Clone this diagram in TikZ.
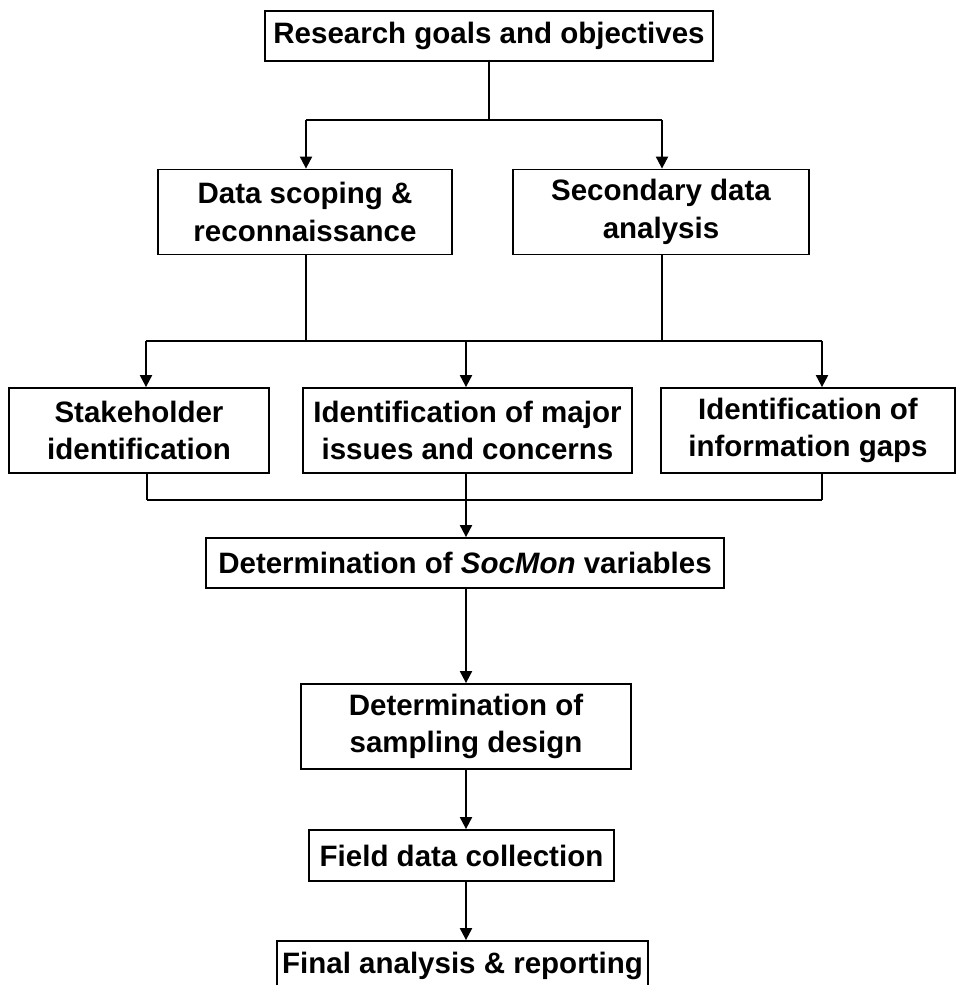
\documentclass[tikz,border=0pt]{standalone}
\usepackage{fontspec}
\setmainfont{Liberation Sans}
\usetikzlibrary{arrows.meta}
\begin{document}
\begin{tikzpicture}[x=1pt,y=-1pt,
  box/.style={draw=black, line width=1.8pt, rectangle, inner sep=0pt, align=center,
    font=\fontsize{29.5}{37.5}\selectfont\bfseries},
  conn/.style={line width=2pt},
  arr/.style={line width=2pt, -{Triangle[length=12pt,width=12pt]}}]
\useasboundingbox (0,0) rectangle (957,985);
\fill[white] (0,0) rectangle (957,985);
% nodes
\node[box, minimum width=448pt, minimum height=50pt] (goals) at (489,36) {Research goals and objectives};
\node[box, minimum width=294pt, minimum height=85pt] (scope) at (305,212) {Data scoping \&\\reconnaissance};
\node[box, minimum width=296pt, minimum height=85pt] (second) at (661,212) {Secondary data\\analysis};
\node[box, minimum width=260pt, minimum height=85pt] (stake) at (139,430.5) {Stakeholder\\identification};
\node[box, minimum width=329pt, minimum height=85pt] (issues) at (467.5,430.5) {Identification of major\\issues and concerns};
\node[box, minimum width=294pt, minimum height=85pt] (gaps) at (808,430.5) {Identification of\\information gaps};
\node[box, minimum width=518pt, minimum height=50pt] (socmon) at (465,563) {Determination of \textit{SocMon} variables};
\node[box, minimum width=330pt, minimum height=85pt] (sampling) at (466,726.5) {Determination of\\sampling design};
\node[box, minimum width=305pt, minimum height=51pt] (field) at (461.5,855.5) {Field data collection};
\node[box, minimum width=371pt, minimum height=50pt] (final) at (462.5,966) {Final analysis \& reporting};
% junction coordinates
\coordinate (j1) at (489,120);
\coordinate (j1l) at (306,120);
\coordinate (j1r) at (662,120);
\coordinate (j2l) at (146,341);
\coordinate (j2m) at (466,341);
\coordinate (j2r) at (822,341);
\coordinate (j3l) at (147,500);
\coordinate (j3m) at (466,500);
\coordinate (j3r) at (822,500);
% level 1
\draw[conn] (goals.south -| j1) -- (j1);
\draw[conn] (j1l) -- (j1r);
\draw[arr] (j1l) -- (scope.north -| j1l);
\draw[arr] (j1r) -- (second.north -| j1r);
% level 2
\draw[conn] (scope.south -| j1l) -- (j1l |- j2l);
\draw[conn] (second.south -| j1r) -- (j1r |- j2l);
\draw[conn] (j2l) -- (j2r);
\draw[arr] (j2l) -- (stake.north -| j2l);
\draw[arr] (j2m) -- (issues.north -| j2m);
\draw[arr] (j2r) -- (gaps.north -| j2r);
% level 3
\draw[conn] (stake.south -| j3l) -- (j3l);
\draw[conn] (issues.south -| j3m) -- (j3m);
\draw[conn] (gaps.south -| j3r) -- (j3r);
\draw[conn] (j3l) -- (j3r);
\draw[arr] (j3m) -- (socmon.north -| j3m);
% chain
\draw[arr] (socmon.south -| j3m) -- (sampling.north -| j3m);
\draw[arr] (sampling.south -| j3m) -- (field.north -| j3m);
\draw[arr] (field.south -| j3m) -- (final.north -| j3m);
\end{tikzpicture}
\end{document}
